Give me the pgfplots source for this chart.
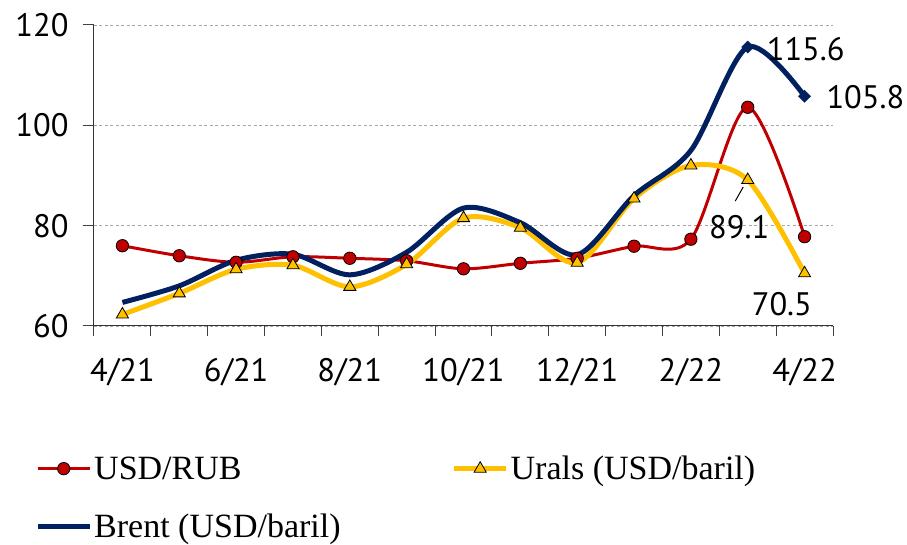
\documentclass[border=0pt]{standalone}
\usepackage{fontspec}
\setmainfont{Liberation Serif}
\newfontfamily\numfont{PT Sans}
\usepackage{pgfplots}
\pgfplotsset{compat=1.18}
\definecolor{rubred}{RGB}{192,0,0}
\definecolor{uralsy}{RGB}{255,192,0}
\definecolor{brentb}{RGB}{0,32,96}
\newcommand{\numsize}{\numfont\fontsize{32.5}{38}\selectfont}
\newcommand{\legsize}{\fontsize{34}{40}\selectfont}
\begin{document}
\begin{tikzpicture}
\useasboundingbox (-94pt,-219pt) rectangle (813pt,326pt);
\begin{axis}[
  at={(0pt,0pt)}, anchor=south west,
  scale only axis, width=739pt, height=301pt,
  xmin=-0.5, xmax=12.5, ymin=60, ymax=120,
  axis x line*=bottom, axis y line*=left,
  axis line style={draw=black!80, line width=1pt},
  ytick={60,80,100,120},
  xtick={0,2,...,12},
  xticklabels={4/21,6/21,8/21,10/21,12/21,2/22,4/22},
  minor xtick={-0.5,0.5,...,12.5},
  major x tick style={draw=none},
  tick align=outside,
  major tick length=11pt, minor tick length=10pt,
  tick style={draw=black!75, line width=1pt},
  ymajorgrids,
  major grid style={draw=black!35, dash pattern=on 3pt off 2.5pt, line width=0.9pt},
  /pgf/number format/assume math mode=true,
  tick label style={font=\numsize},
  yticklabel style={xshift=-11pt},
  xticklabel style={yshift=-18pt},
  legend columns=2,
  legend cell align=left,
  legend image code/.code={\draw[mark repeat=2,mark phase=2,#1] plot coordinates {(0pt,0pt) (26pt,0pt) (52pt,0pt)};},
  legend style={draw=none, fill=none, font=\legsize, inner sep=0pt,
    at={(axis description cs:-0.0798,-0.425)}, anchor=north west,
    row sep=29pt,
    /tikz/every even column/.append style={column sep=109pt}},
  clip=false,
]
\addplot[rubred, line width=3pt, smooth, tension=0.5, mark=*, mark size=6.2pt,
  mark options={fill=rubred, draw=black, line width=0.8pt, solid}]
  coordinates {(0,76.0) (1,74.0) (2,72.7) (3,73.8) (4,73.5) (5,73.0) (6,71.4) (7,72.5) (8,73.5) (9,75.9) (10,77.3) (11,103.6) (12,77.8)};
\addlegendentry{USD/RUB}
\addplot[uralsy, line width=5pt, smooth, tension=0.5, mark=triangle*, mark size=7pt,
  mark options={fill=uralsy, draw=black, line width=0.8pt, solid}]
  coordinates {(0,62.3) (1,66.5) (2,71.3) (3,72.1) (4,67.8) (5,72.3) (6,81.5) (7,79.6) (8,72.6) (9,85.4) (10,92.0) (11,89.1) (12,70.5)};
\addlegendentry{Urals (USD/baril)}
\addplot[brentb, line width=5pt, smooth, tension=0.5]
  coordinates {(0,64.7) (1,68.0) (2,73.1) (3,74.3) (4,70.2) (5,74.7) (6,83.5) (7,80.6) (8,74.2) (9,86.0) (10,95.0) (11,115.6) (12,105.8)};
\addlegendentry{Brent (USD/baril)}
\addplot[only marks, mark=square*, mark size=4.3pt, mark options={rotate=45, fill=brentb, draw=brentb}, forget plot]
  coordinates {(11,115.6) (12,105.8)};
\node[font=\numsize] at (axis cs:12.02,115.2) {115.6};
\node[font=\numsize] at (axis cs:13.07,105.7) {105.8};
\node[font=\numsize] at (axis cs:10.85,79.7) {89.1};
\node[font=\numsize] at (axis cs:11.6,64.4) {70.5};
\draw[black, line width=1pt] (axis cs:10.78,84.9) -- (axis cs:10.92,87.7);
\end{axis}
\end{tikzpicture}
\end{document}
